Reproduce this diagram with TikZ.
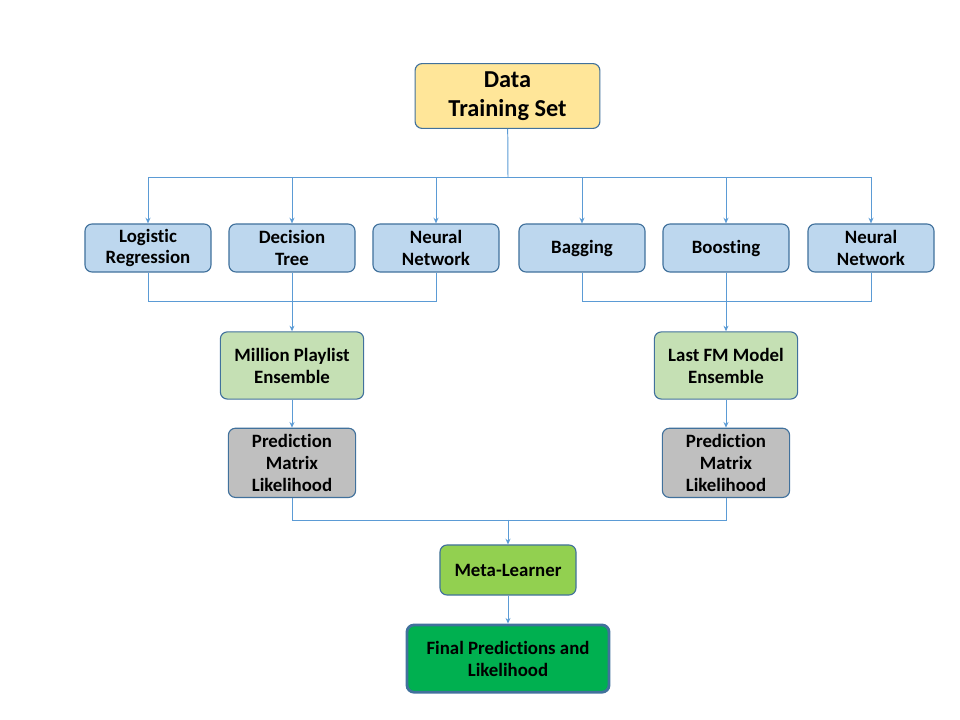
\documentclass[tikz,border=0pt]{standalone}
\usepackage{fontspec}
\setmainfont{Carlito}[Ligatures=NoCommon]
\usepackage{xcolor}
\usepackage{tikz}
\usetikzlibrary{arrows.meta,positioning}

\definecolor{lineblue}{HTML}{5B9BD5}
\definecolor{edgeblue}{HTML}{41719C}
\definecolor{boxblue}{HTML}{BDD7EE}
\definecolor{boxyellow}{HTML}{FFE699}
\definecolor{boxgreen}{HTML}{C5E0B4}
\definecolor{boxgray}{HTML}{BFBFBF}
\definecolor{metagreen}{HTML}{92D050}
\definecolor{finalgreen}{HTML}{00B050}

\begin{document}
\begin{tikzpicture}[x=0.025cm, y=-0.025cm,
  box/.style={draw=edgeblue, line width=0.8pt, rounded corners=5pt,
    font=\fontsize{13.4}{15.6}\selectfont\bfseries, align=center,
    inner sep=0pt},
  model/.style={box, fill=boxblue, minimum width=3.15cm, minimum height=1.2cm},
  ens/.style={box, fill=boxgreen, minimum width=3.58cm, minimum height=1.68cm},
  pred/.style={box, fill=boxgray, minimum width=3.18cm, minimum height=1.73cm},
  line/.style={draw=lineblue, line width=0.7pt},
  arr/.style={line, -{Stealth[length=4pt, width=3.5pt]}},
]
  \useasboundingbox (0,0) rectangle (960,720);

  \node[box, fill=boxyellow, minimum width=4.62cm, minimum height=1.62cm,
    font=\fontsize{17.3}{21}\selectfont\bfseries] (data) at (507.5,96)
    {Data\\Training Set};

  % base models
  \node[model] (logreg) at (148,248) {Logistic\\Regression};
  \node[model] (dtree) at (292,248) {Decision\\Tree};
  \node[model] (nnleft) at (436,248) {Neural\\Network};
  \node[model] (bag) at (582,248) {Bagging};
  \node[model] (boost) at (726,248) {Boosting};
  \node[model] (nnright) at (871,248) {Neural\\Network};

  \node[ens] (mpe) at (292,365.5) {Million Playlist\\Ensemble};
  \node[ens] (lfm) at (726,365.5) {Last FM Model\\Ensemble};

  \node[pred, below=0.7cm of mpe] (predleft) {Prediction\\Matrix\\Likelihood};
  \node[pred, below=0.7cm of lfm] (predright) {Prediction\\Matrix\\Likelihood};

  \node[box, fill=metagreen, minimum width=3.4cm, minimum height=1.25cm]
    (meta) at (508,570) {Meta-Learner};
  \node[box, fill=finalgreen, line width=2pt, minimum width=5.05cm,
    minimum height=1.68cm, below=0.7cm of meta] (final)
    {Final Predictions and\\Likelihood};

  \coordinate (split) at (508,177);
  \coordinate (joinleft) at (292,301);
  \coordinate (joinright) at (726,301);
  \coordinate (joinmeta) at (508,520);

  \draw[line] (data) -- (split);
  \foreach \m in {logreg,dtree,nnleft,bag,boost,nnright}
    \draw[arr] (split) -| (\m);

  \draw[line] (logreg) |- (joinleft);
  \draw[line] (nnleft) |- (joinleft);
  \draw[arr] (dtree) -- (mpe);
  \draw[line] (bag) |- (joinright);
  \draw[line] (nnright) |- (joinright);
  \draw[arr] (boost) -- (lfm);

  \draw[arr] (mpe) -- (predleft);
  \draw[arr] (lfm) -- (predright);

  \draw[line] (predleft) |- (joinmeta);
  \draw[line] (predright) |- (joinmeta);
  \draw[arr] (joinmeta) -- (meta);
  \draw[arr] (meta) -- (final);
\end{tikzpicture}
\end{document}
